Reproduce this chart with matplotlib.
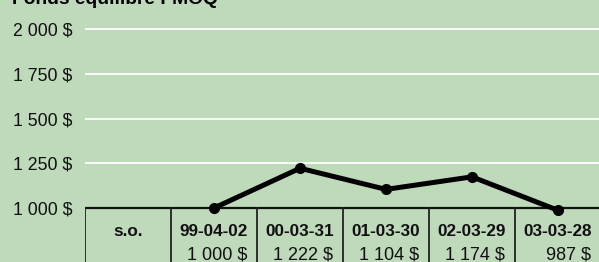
import matplotlib.pyplot as plt

# data
title = 'Fonds équilibré FMOQ'
dates = ['s.o.', '99-04-02', '00-03-31', '01-03-30', '02-03-29', '03-03-28']
values = [None, 1000, 1222, 1104, 1174, 987]
value_labels = ['', '1 000 $', '1 222 $', '1 104 $', '1 174 $', '987 $']
yticks = [1000, 1250, 1500, 1750, 2000]
ytick_labels = ['1 000 $', '1 250 $', '1 500 $', '1 750 $', '2 000 $']

bg = '#bfd9bb'
plt.rcParams['font.family'] = ['Liberation Sans', 'DejaVu Sans']

W, H = 599, 262
fig = plt.figure(figsize=(W / 100, H / 100), dpi=100, facecolor=bg)
ax = fig.add_axes([85 / W, 0, 1 - 85 / W, 1])
ax.set_facecolor(bg)

# 86 px per column, 0.179 px per $ unit, 1000 $ sits at y=208 px
ax.set_xlim(0, (W - 85) / 86)
ax.set_ylim(1000 - (H - 208) / 0.179, 1000 + 208 / 0.179)
for s in ax.spines.values():
    s.set_visible(False)
ax.set_xticks([])
ax.set_yticks(yticks)
ax.set_yticklabels(ytick_labels, fontsize=12.8, color='#111111')
ax.tick_params(axis='y', length=0, pad=9)

for v in yticks[1:]:
    ax.axhline(v, color='white', lw=1.3, zorder=1)
ax.axhline(1000, color='#111111', lw=1.6, zorder=2)

# table grid
for i in range(len(dates)):
    ax.plot([i, i], [ax.get_ylim()[0], 1000], color='#222222', lw=1.3, zorder=2)

xs = [i + 0.5 for i, v in enumerate(values) if v is not None]
ys = [v for v in values if v is not None]
ax.plot(xs, ys, color='black', lw=3.6, marker='o', ms=7, zorder=3,
        solid_capstyle='round', clip_on=False)

for i, (d, lab) in enumerate(zip(dates, value_labels)):
    ax.text(i + 0.5, 1000 - 23 / 0.179, d, ha='center', va='center',
            fontsize=12.3, fontweight='bold', color='#111111')
    if lab:
        ax.text(i + 1 - 10 / 86, 1000 - 47 / 0.179, lab, ha='right', va='center',
                fontsize=13, color='#111111')

fig.text(12 / W, 1 - 4.5 / H, title, ha='left', va='baseline',
         fontsize=13.9, fontweight='bold', color='black')

fig.savefig('out.png', dpi=100, facecolor=bg)
